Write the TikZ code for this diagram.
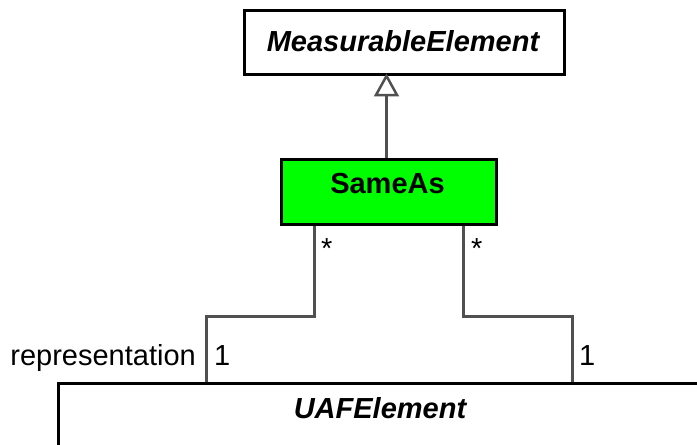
\documentclass[tikz,border=0pt]{standalone}
\usepackage{fontspec}
\setmainfont{Liberation Sans}
\definecolor{connclr}{HTML}{505050}
\definecolor{umlgreen}{HTML}{00FF00}
\tikzset{
  classbox/.style={draw=black, line width=3pt, rectangle, inner sep=0pt},
  conn/.style={draw=connclr, line width=3pt},
  gentip/.style={draw=connclr, line width=2.5pt, fill=white, line join=miter},
  lbl/.style={font=\fontsize{29pt}{34pt}\selectfont, inner sep=0pt},
  title/.style={font=\fontsize{29pt}{34pt}\selectfont\bfseries, inner sep=0pt},
  ititle/.style={font=\fontsize{29pt}{34pt}\selectfont\bfseries\itshape, inner sep=0pt}
}
\begin{document}
\begin{tikzpicture}[x=1pt,y=-1pt]
\useasboundingbox (0,0) rectangle (697,445);
\clip (0,0) rectangle (697,445);
\node[classbox, fill=white, minimum width=320pt, minimum height=64pt, anchor=north west] (meas) at (243,9) {};
\node[ititle] (meastxt) at (403,41) {MeasurableElement};
\node[classbox, fill=umlgreen, minimum width=215pt, minimum height=65pt, anchor=north west] (same) at (280,158) {};
\node[title] (sametxt) at (387.5,184) {SameAs};
\node[classbox, fill=white, minimum width=646pt, minimum height=100pt, anchor=north west] (uaf) at (57,382) {};
\node[ititle] (uaftxt) at (380,408) {UAFElement};
\coordinate (apex) at ([xshift=-2.5pt]same.north |- meas.south);
\draw[conn] ([xshift=-2.5pt]same.north) -- ([yshift=-19pt]apex);
\draw[gentip] (apex) -- ++(-10.5,19) -- ++(21,0) -- cycle;
\draw[conn] ([xshift=-74.5pt]same.south) -- ++(0,90) -| ([xshift=149pt]uaf.north west);
\draw[conn] ([xshift=74.5pt]same.south) -- ++(0,90) -| ([xshift=515pt]uaf.north west);
\node[lbl, anchor=base west] (s1) at (321,258) {*};
\node[lbl, anchor=base west] (s2) at (471,258) {*};
\node[lbl, anchor=base east] (rep) at (196,365) {representation};
\node[lbl, anchor=base west] (m1) at (214,365) {1};
\node[lbl, anchor=base west] (m2) at (579,365) {1};
\end{tikzpicture}
\end{document}
